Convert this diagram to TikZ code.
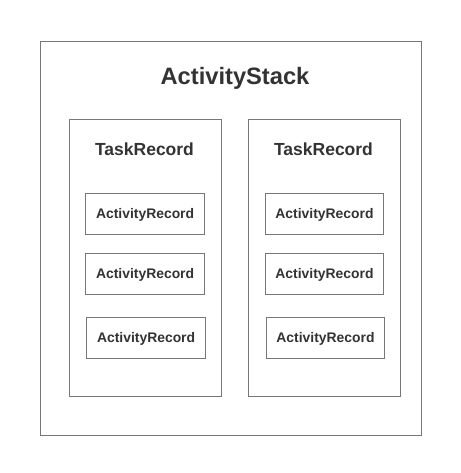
\documentclass[tikz,border=0pt]{standalone}
\usepackage{fontspec}
\setmainfont{Liberation Sans}
\definecolor{boxline}{HTML}{777777}
\definecolor{boxtext}{HTML}{333333}
\tikzset{
  frame/.style={draw=boxline, line width=1pt, inner sep=0pt, fill=white},
  record/.style={frame, minimum width=118.3pt, minimum height=41pt,
    font=\bfseries\fontsize{13.9}{14}\selectfont, text=boxtext,
    text height=10pt, text depth=0pt},
  tasktitle/.style={anchor=base, text=boxtext, inner sep=0pt,
    font=\bfseries\fontsize{17.5}{18}\selectfont},
  stacktitle/.style={anchor=base, text=boxtext, inner sep=0pt,
    font=\bfseries\fontsize{23.7}{24}\selectfont}
}
\begin{document}
\begin{tikzpicture}[x=1pt,y=-1pt]
    \useasboundingbox (0,0) rectangle (460,473);
    % Frames
    \node[frame, minimum width=381.4pt, minimum height=393.7pt] (stack) at (231,238.2) {};
    \node[frame, minimum width=152.4pt, minimum height=277pt] (taskL) at (145.5,257.8) {};
    \node[frame, minimum width=152.4pt, minimum height=277pt] (taskR) at (324.5,257.8) {};
    % Records
    \node[record] (recL1) at (145.1,213.6) {ActivityRecord};
    \node[record] (recL2) at (145.1,273.6) {ActivityRecord};
    \node[record] (recL3) at (146.1,337.8) {ActivityRecord};
    \node[record] (recR1) at (324.5,213.6) {ActivityRecord};
    \node[record] (recR2) at (324.5,273.6) {ActivityRecord};
    \node[record] (recR3) at (325.5,337.8) {ActivityRecord};
    % Labels
    \node[stacktitle] (stackname) at (235,85) {ActivityStack};
    \node[tasktitle] (tasknameL) at (144.5,155) {TaskRecord};
    \node[tasktitle] (tasknameR) at (323.5,155) {TaskRecord};
\end{tikzpicture}
\end{document}
